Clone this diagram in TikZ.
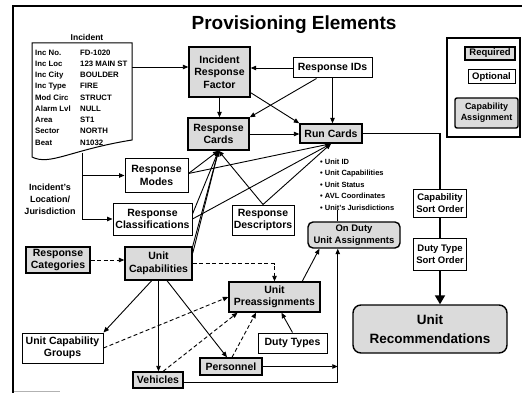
\documentclass[tikz,border=0pt]{standalone}
\usepackage{fontspec}
\setmainfont{Liberation Sans}
\usetikzlibrary{arrows.meta,calc}
\tikzset{
  box/.style={draw, align=center, inner sep=1pt, font=\bfseries\fontsize{10.5}{12.5}\selectfont},
  req/.style={box, fill=gray!28, line width=1.4pt},
  opt/.style={box, fill=white, line width=1pt},
  capa/.style={box, fill=gray!28, line width=1.4pt, rounded corners=5pt},
  conn/.style={line width=0.9pt, -{Triangle[length=5.5pt,width=4.5pt]}},
  dconn/.style={conn, dash pattern=on 4pt off 2.5pt},
  plain/.style={line width=0.9pt},
  doctxt/.style={anchor=base west, inner sep=0pt, font=\bfseries\fontsize{7.8}{9}\selectfont},
}
\begin{document}
\begin{tikzpicture}[x=1pt,y=-1pt]
\useasboundingbox (0,0) rectangle (522,393);
% frame
\draw[line width=2.5pt] (13,393) -- (13,6) -- (522,6);
\draw[gray!60, line width=1pt] (14,391) -- (60,391);

% title
\node[font=\bfseries\fontsize{19}{22}\selectfont] (title) at (294,25) {Provisioning Elements};

% incident document
\node[font=\bfseries\fontsize{8.5}{9}\selectfont, inner sep=0pt] (inclabel) at (87,37) {Incident};
\draw[line width=1pt, fill=white] (32,43) -- (132,43) -- (132,140)
   .. controls (70,150) and (50,166) .. (32,157) -- cycle;
\foreach \a/\b [count=\i] in {Inc No./FD-1020, Inc Loc/123 MAIN ST, Inc City/BOULDER,
   Inc Type/FIRE, Mod Circ/STRUCT, Alarm Lvl/NULL, Area/ST1, Sector/NORTH, Beat/N1032} {
  \node[doctxt] (incl\i) at (35,{44+11.25*\i}) {\a};
  \node[doctxt] (incv\i) at (80,{44+11.25*\i}) {\b};
}
\coordinate (incR) at (132,67);
\coordinate (incB) at (82,153);

\node[font=\bfseries\fontsize{9}{12}\selectfont, align=center, inner sep=0pt] (locj) at (50,199) {Incident's\\Location/\\Jurisdiction};

% legend
\node[draw, line width=1.5pt, minimum width=73pt, minimum height=99pt, inner sep=0pt] (legend) at (483.5,87.5) {};
\node[req, font=\bfseries\fontsize{9.5}{11}\selectfont, minimum width=50pt, minimum height=13pt] (lreq) at (490,53.5) {Required};
\node[opt, font=\bfseries\fontsize{9.5}{11}\selectfont, minimum width=47pt, minimum height=14pt] (lopt) at (491.5,77) {Optional};
\node[capa, rounded corners=2pt, font=\bfseries\fontsize{9}{11}\selectfont, minimum width=63pt, minimum height=30pt] (lcap) at (486.5,113) {Capability\\Assignment};

% main nodes
\node[req, minimum width=61pt, minimum height=50pt] (irf) at (219.5,72) {Incident\\Response\\Factor};
\node[opt, minimum width=79pt, minimum height=20pt] (rids) at (332.5,68) {Response IDs};
\node[req, minimum width=61pt, minimum height=32pt] (rcards) at (218.5,134) {Response\\Cards};
\node[req, minimum width=62pt, minimum height=19pt] (runcards) at (331,133.5) {Run Cards};
\node[opt, minimum width=63pt, minimum height=33pt] (rmodes) at (156.5,175.5) {Response\\Modes};
\node[opt, minimum width=79pt, minimum height=32pt] (rclass) at (152.5,219) {Response\\Classifications};
\node[opt, minimum width=62pt, minimum height=30pt] (rdesc) at (263,220) {Response\\Descriptors};
\node[anchor=north west, align=left, inner sep=0pt, font=\bfseries\fontsize{7.5}{11.5}\selectfont] (blist) at (320,158.5)
  {• Unit ID\\• Unit Capabilities\\• Unit Status\\• AVL Coordinates\\• Unit's Jurisdictions};
\node[capa, font=\bfseries\fontsize{9.5}{11.5}\selectfont, minimum width=92pt, minimum height=26pt] (onduty) at (354,235) {On Duty\\Unit Assignments};
\node[opt, font=\bfseries\fontsize{9.5}{12}\selectfont, minimum width=53pt, minimum height=28pt] (cso) at (440,203) {Capability\\Sort Order};
\node[opt, font=\bfseries\fontsize{9.5}{12}\selectfont, minimum width=53pt, minimum height=32pt] (dtso) at (440,254) {Duty Type\\Sort Order};
\node[capa, rounded corners=8pt, font=\bfseries\fontsize{13.5}{19}\selectfont, minimum width=154pt, minimum height=48pt] (urec) at (430,329) {Unit\\Recommendations};
\node[req, minimum width=64pt, minimum height=26pt] (rcat) at (58,260) {Response\\Categories};
\node[req, minimum width=67pt, minimum height=33pt] (ucap) at (158.5,263.5) {Unit\\Capabilities};
\node[req, minimum width=91pt, minimum height=30pt] (upre) at (274.5,297) {Unit\\Preassignments};
\node[opt, minimum width=69pt, minimum height=20pt] (dtypes) at (292.5,343) {Duty Types};
\node[req, minimum width=62pt, minimum height=17pt] (pers) at (231,366.5) {Personnel};
\node[req, minimum width=50pt, minimum height=16pt] (veh) at (158,380) {Vehicles};
\node[opt, minimum width=81pt, minimum height=30pt] (ucg) at (62.5,348) {Unit Capability\\Groups};

% connectors
\draw[conn] (incR) -- (irf.west |- incR);
\draw[conn] (rids.west) -- (rids.west -| irf.east);
\draw[conn] (irf.south) -- (irf.south |- rcards.north);
\draw[conn] ([yshift=5pt]irf.south east) -- (runcards.north west);
\draw[conn] ($(rids.south west)!0.3!(rids.south east)$) -- (rcards.north east);
\draw[conn] (rids.south) -- (rids.south |- runcards.north);
\draw[conn] (rcards.east) -- (rcards.east -| runcards.west);
\draw[line width=1.5pt] (runcards.east) -| (cso.north);
\draw[line width=1.5pt] (cso.south) -- (dtso.north);
\draw[line width=1.8pt, -{Triangle[length=9pt,width=10pt]}] (dtso.south) -- (dtso.south |- urec.north);

\draw[conn] (incB) |- (rclass.west);
\draw[conn] (incB |- rmodes.west) -- (rmodes.west);

\draw[conn] ([yshift=2pt]rmodes.east) -- (rcards.south);
\draw[conn] ([yshift=2pt]rmodes.east) -- (runcards.south);
\draw[conn] ([yshift=5pt]rclass.east) -- (rcards.south);
\draw[conn] (rclass.east) -- (runcards.south);
\draw[conn] (ucap.north east) -- (rcards.south);
\draw[conn] ([yshift=-7pt]ucap.north east) -- (rcards.south);
\draw[conn] (rdesc.north) -- (rcards.south);
\draw[conn] (rdesc.north) -- (runcards.south);

\coordinate (odin) at ($(onduty.south west)!0.326!(onduty.south east)$);
\draw[plain] (blist.south -| odin) -- (odin |- onduty.north);

\draw[dconn] (rcat.east) -- (rcat.east -| ucap.west);
\draw[dconn] (ucap.east) -| (upre.north);
\draw[conn] ($(upre.north)!0.6!(upre.north east)$) -- ($(onduty.south west)!0.13!(onduty.south east)$);
\draw[conn] (dtypes.north) -- ($(upre.south)!0.15!(upre.south east)$);
\draw[dconn] ([xshift=1pt]pers.north) -- ($(upre.south)!0.4!(upre.south west)$);
\draw[conn] ($(ucap.south)!0.25!(ucap.south east)$) -- ([xshift=-4pt]pers.north);
\draw[conn] (ucap.south) -- (ucap.south |- veh.north);
\draw[conn] ($(ucap.south)!0.2!(ucap.south west)$) -- (ucg.north east);
\draw[dconn] (ucg.east) -- (upre.west);
\draw[dconn] ($(veh.north)!0.2!(veh.north east)$) -- ($(upre.south west)!0.1!(upre.south east)$);
\draw[conn] ([yshift=-2pt]veh.east) -| (odin);
\draw[conn] (pers.east) -- (pers.east -| odin);
\end{tikzpicture}
\end{document}
